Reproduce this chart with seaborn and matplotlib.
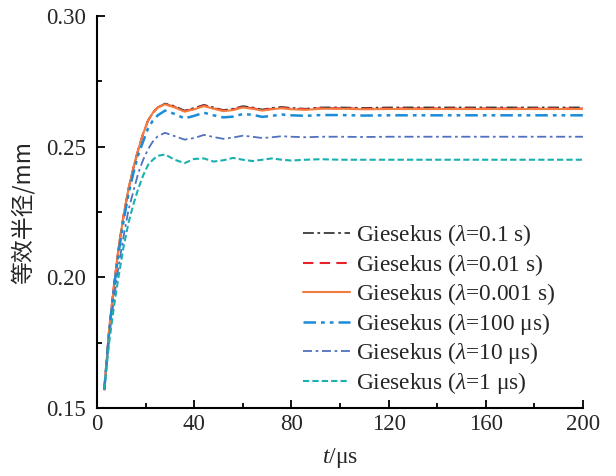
import numpy as np
import pandas as pd
import matplotlib
matplotlib.use("Agg")
import matplotlib.pyplot as plt
import seaborn as sns
from matplotlib.ticker import MultipleLocator, FormatStrFormatter

# ---- data ----
t = [3, 5, 7, 9, 11, 13, 15, 17, 19, 21, 23, 25, 28, 32, 36, 40, 44, 48, 52, 56,
     60, 64, 68, 72, 76, 80, 86, 92, 100, 110, 120, 140, 160, 180, 200]

r_01s = [0.157, 0.180, 0.197, 0.212, 0.224, 0.234, 0.242, 0.249, 0.255, 0.260, 0.263, 0.265,
         0.2665, 0.2655, 0.2638, 0.2648, 0.2660, 0.2650, 0.2640, 0.2645, 0.2655, 0.2650, 0.2642,
         0.2648, 0.2652, 0.2648, 0.2645, 0.2650, 0.2650, 0.2648, 0.2650, 0.2650, 0.2650, 0.2650, 0.2650]
r_001s = [0.157, 0.180, 0.197, 0.212, 0.224, 0.234, 0.242, 0.249, 0.255, 0.260, 0.263, 0.265,
          0.2663, 0.2652, 0.2636, 0.2645, 0.2657, 0.2647, 0.2638, 0.2642, 0.2652, 0.2647, 0.2640,
          0.2645, 0.2649, 0.2645, 0.2643, 0.2647, 0.2647, 0.2645, 0.2646, 0.2646, 0.2646, 0.2646, 0.2646]
r_0001s = [0.157, 0.180, 0.197, 0.212, 0.224, 0.234, 0.242, 0.249, 0.255, 0.260, 0.263, 0.265,
           0.2662, 0.2650, 0.2634, 0.2643, 0.2655, 0.2645, 0.2636, 0.2640, 0.2650, 0.2645, 0.2638,
           0.2643, 0.2647, 0.2643, 0.2641, 0.2645, 0.2645, 0.2643, 0.2644, 0.2644, 0.2644, 0.2644, 0.2644]
r_100us = [0.157, 0.179, 0.196, 0.210, 0.222, 0.232, 0.240, 0.247, 0.252, 0.257, 0.260, 0.262,
           0.2638, 0.2625, 0.2608, 0.2618, 0.2630, 0.2620, 0.2612, 0.2615, 0.2625, 0.2622, 0.2614,
           0.2618, 0.2623, 0.2620, 0.2618, 0.2621, 0.2621, 0.2619, 0.2620, 0.2620, 0.2620, 0.2620, 0.2620]
r_10us = [0.157, 0.177, 0.192, 0.205, 0.216, 0.226, 0.233, 0.240, 0.245, 0.249, 0.252, 0.254,
          0.2553, 0.2540, 0.2527, 0.2533, 0.2545, 0.2537, 0.2530, 0.2535, 0.2542, 0.2538, 0.2533,
          0.2536, 0.2540, 0.2538, 0.2536, 0.2538, 0.2538, 0.2537, 0.2538, 0.2538, 0.2538, 0.2538, 0.2538]
r_1us = [0.157, 0.175, 0.189, 0.201, 0.212, 0.221, 0.228, 0.234, 0.239, 0.243, 0.245, 0.2465,
         0.2470, 0.2450, 0.2437, 0.2453, 0.2455, 0.2443, 0.2448, 0.2457, 0.2450, 0.2445, 0.2450,
         0.2455, 0.2450, 0.2447, 0.2450, 0.2452, 0.2450, 0.2450, 0.2450, 0.2450, 0.2450, 0.2450, 0.2450]

labels = [r"Giesekus ($\lambda$=0.1 s)", r"Giesekus ($\lambda$=0.01 s)",
          r"Giesekus ($\lambda$=0.001 s)", r"Giesekus ($\lambda$=100 μs)",
          r"Giesekus ($\lambda$=10 μs)", r"Giesekus ($\lambda$=1 μs)"]
series = [r_01s, r_001s, r_0001s, r_100us, r_10us, r_1us]
x_ticks = [0, 40, 80, 120, 160, 200]
y_ticks = [0.15, 0.20, 0.25, 0.30]

# ---- styles ----
colors = ["#3a3a3a", "#e8202a", "#f47c3c", "#1a8cd8", "#5070c0", "#1ab0b0"]
styles = [(0, (6, 2, 1.5, 2)), (0, (5, 3)), "-", (0, (5, 2, 1.5, 2, 1.5, 2)),
          (0, (5, 2, 1.5, 2)), (0, (3, 1.5))]
widths = [1.3, 1.5, 1.5, 1.8, 1.3, 1.5]

sns.set_style("ticks")
plt.rcParams["font.family"] = ["Liberation Serif", "DejaVu Serif"]
plt.rcParams["mathtext.fontset"] = "custom"
plt.rcParams["mathtext.rm"] = "Liberation Serif"
plt.rcParams["mathtext.it"] = "Liberation Serif:italic"

fig = plt.figure(figsize=(6.16, 4.76), dpi=100)
ax = fig.add_axes([97 / 616, 1 - 408 / 476, 486 / 616, 392 / 476])

for lab, vals, c, ls, lw in zip(labels, series, colors, styles, widths):
    df = pd.DataFrame({"t": t, "r": vals})
    sns.lineplot(data=df, x="t", y="r", color=c, linestyle=ls, linewidth=lw,
                 label=lab, ax=ax)

ax.set_xlim(0, 200)
ax.set_ylim(0.15, 0.30)
ax.set_xticks(x_ticks)
ax.set_yticks(y_ticks)
ax.xaxis.set_minor_locator(MultipleLocator(20))
ax.yaxis.set_minor_locator(MultipleLocator(0.025))
ax.yaxis.set_major_formatter(FormatStrFormatter("%.2f"))
ax.tick_params(which="both", direction="in", width=1.3, labelsize=16.5, color="black")
ax.tick_params(which="major", length=6)
ax.tick_params(which="minor", length=3.5)
ax.tick_params(axis="y", pad=8)
ax.tick_params(axis="x", pad=4)
sns.despine(ax=ax)
for s in ["left", "bottom"]:
    ax.spines[s].set_linewidth(1.5)
    ax.spines[s].set_color("black")

ax.set_xlabel(r"$t$/μs", fontsize=17, labelpad=8)
ax.set_ylabel("等效半径/mm", fontsize=16.5, family=["Noto Sans CJK SC", "DejaVu Sans"], labelpad=8)

handles, labs = ax.get_legend_handles_labels()
ax.legend(handles, labs, loc="center left", bbox_to_anchor=(0.424, 0.252),
          frameon=False, fontsize=16.8, handlelength=2.0, handletextpad=0.25,
          labelspacing=0.15, borderpad=0, borderaxespad=0)

fig.savefig("out.png", dpi=100)
